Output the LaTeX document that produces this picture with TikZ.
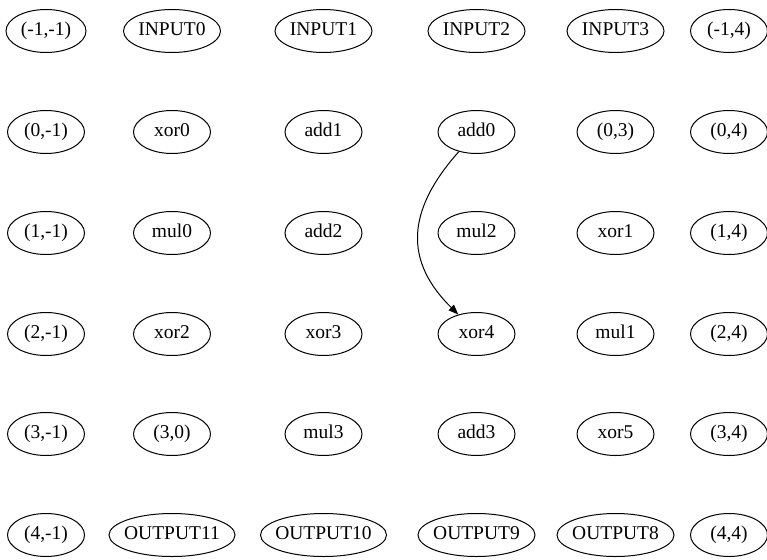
\documentclass[tikz,border=0pt]{standalone}
\usepackage{fontspec}
\setmainfont{Liberation Serif}
\usetikzlibrary{shapes.geometric,arrows.meta}
\tikzset{
  vnode/.style={draw, ellipse, line width=1pt, inner sep=0pt, minimum height=43pt, minimum width=77pt,
    font=\fontsize{19.5}{23}\selectfont},
  wIN/.style={minimum width=97pt},
  wOUTa/.style={minimum width=126pt},
  wOUTb/.style={minimum width=117pt},
  wwide/.style={minimum width=80pt},
  edge/.style={line width=1pt, -{Triangle[length=10pt,width=7.5pt]}}
}
\newcommand{\lbl}[1]{\makebox[0pt]{\strut #1}}
\begin{document}
\begin{tikzpicture}[x=1pt,y=-1pt]
\useasboundingbox (0,0) rectangle (767,559);
% columns: 46, 172, 323.5, 476.5, 615.5, 729 ; rows: 31, 132, 233, 334, 434, 535
\node[vnode,wwide] (m1m1) at (46,31) {\lbl{(-1,-1)}};
\node[vnode,wIN] (in0) at (172,31) {\lbl{INPUT0}};
\node[vnode,wIN] (in1) at (323.5,31) {\lbl{INPUT1}};
\node[vnode,wIN] (in2) at (476.5,31) {\lbl{INPUT2}};
\node[vnode,wIN] (in3) at (615.5,31) {\lbl{INPUT3}};
\node[vnode] (m1p4) at (729,31) {\lbl{(-1,4)}};

\node[vnode] (z0m1) at (46,132) {\lbl{(0,-1)}};
\node[vnode] (xor0) at (172,132) {\lbl{xor0}};
\node[vnode] (add1) at (323.5,132) {\lbl{add1}};
\node[vnode] (add0) at (476.5,132) {\lbl{add0}};
\node[vnode] (z03) at (615.5,132) {\lbl{(0,3)}};
\node[vnode] (z04) at (729,132) {\lbl{(0,4)}};

\node[vnode] (o1m1) at (46,233) {\lbl{(1,-1)}};
\node[vnode] (mul0) at (172,233) {\lbl{mul0}};
\node[vnode] (add2) at (323.5,233) {\lbl{add2}};
\node[vnode] (mul2) at (476.5,233) {\lbl{mul2}};
\node[vnode] (xor1) at (615.5,233) {\lbl{xor1}};
\node[vnode] (o14) at (729,233) {\lbl{(1,4)}};

\node[vnode] (t2m1) at (46,334) {\lbl{(2,-1)}};
\node[vnode] (xor2) at (172,334) {\lbl{xor2}};
\node[vnode] (xor3) at (323.5,334) {\lbl{xor3}};
\node[vnode] (xor4) at (476.5,334) {\lbl{xor4}};
\node[vnode] (mul1) at (615.5,334) {\lbl{mul1}};
\node[vnode] (t24) at (729,334) {\lbl{(2,4)}};

\node[vnode] (h3m1) at (46,434) {\lbl{(3,-1)}};
\node[vnode] (h30) at (172,434) {\lbl{(3,0)}};
\node[vnode] (mul3) at (323.5,434) {\lbl{mul3}};
\node[vnode] (add3) at (476.5,434) {\lbl{add3}};
\node[vnode] (xor5) at (615.5,434) {\lbl{xor5}};
\node[vnode] (h34) at (729,434) {\lbl{(3,4)}};

\node[vnode] (f4m1) at (46,535) {\lbl{(4,-1)}};
\node[vnode,wOUTa] (out11) at (172,535) {\lbl{OUTPUT11}};
\node[vnode,wOUTa] (out10) at (323.5,535) {\lbl{OUTPUT10}};
\node[vnode,wOUTb] (out9) at (476.5,535) {\lbl{OUTPUT9}};
\node[vnode,wOUTb] (out8) at (615.5,535) {\lbl{OUTPUT8}};
\node[vnode] (f44) at (729,535) {\lbl{(4,4)}};

\draw[edge] (add0.228) .. controls (405,212) and (405,262) .. (xor4.133);
\end{tikzpicture}
\end{document}
